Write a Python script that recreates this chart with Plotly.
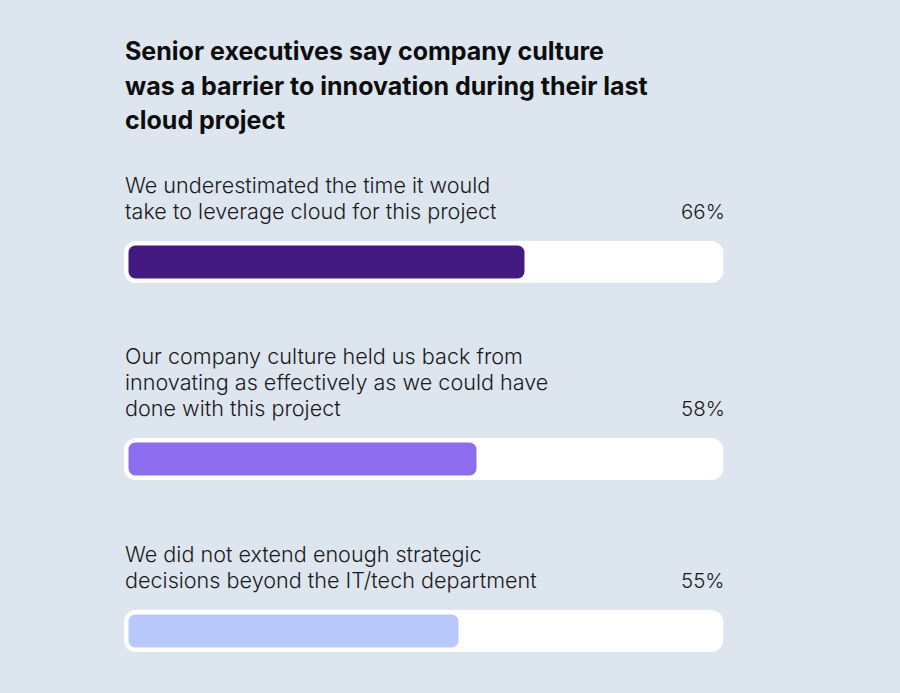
import plotly.graph_objects as go

# ---- data ----
title_lines = [
    "Senior executives say company culture",
    "was a barrier to innovation during their last",
    "cloud project",
]
labels = [
    ["We underestimated the time it would",
     "take to leverage cloud for this project"],
    ["Our company culture held us back from",
     "innovating as effectively as we could have",
     "done with this project"],
    ["We did not extend enough strategic",
     "decisions beyond the IT/tech department"],
]
values = [66, 58, 55]
bar_colors = ["#431a7f", "#8b6dee", "#b8c8fb"]

# ---- layout constants (pixels) ----
W, H = 900, 693
ZERO_PX = 128.5      # pixel position of 0%
PX_PER_PCT = 6.0     # pixel per percentage point
TRACK_LEFT_PX, TRACK_RIGHT_PX = 124, 723.3
TRACK_Y = [262, 459, 631]   # centre of each track
TRACK_H, BAR_H = 42, 33
LINE_H = 26
BG = "#dde5ef"
FONT = "Inter"

def px_to_x(px):
    return (px - ZERO_PX) / PX_PER_PCT

track_base = px_to_x(TRACK_LEFT_PX)
track_len = px_to_x(TRACK_RIGHT_PX) - track_base

fig = go.Figure()
fig.add_trace(go.Bar(
    orientation="h", y=TRACK_Y, x=[track_len] * len(values), base=[track_base] * len(values),
    width=TRACK_H, marker=dict(color="white", cornerradius=12, line=dict(width=0)),
    hoverinfo="skip", showlegend=False,
))
fig.add_trace(go.Bar(
    orientation="h", y=TRACK_Y, x=values, base=[0] * len(values),
    width=BAR_H, marker=dict(color=bar_colors, cornerradius=7, line=dict(width=0)),
    hoverinfo="skip", showlegend=False,
))

annotations = []
title_y = [51, 86, 120]
for line, ty in zip(title_lines, title_y):
    annotations.append(dict(
        text=line, x=px_to_x(TRACK_LEFT_PX - 1), y=ty, xref="x", yref="y",
        xanchor="left", yanchor="middle", showarrow=False,
        font=dict(family=FONT, size=25, color="#0d0d0d", weight=700),
    ))

for lab, v, cy in zip(labels, values, TRACK_Y):
    last_line_y = cy - TRACK_H / 2 - 30
    for i, line in enumerate(lab):
        ly = last_line_y - (len(lab) - 1 - i) * LINE_H
        annotations.append(dict(
            text=line, x=px_to_x(TRACK_LEFT_PX - 1), y=ly, xref="x", yref="y",
            xanchor="left", yanchor="middle", showarrow=False,
            font=dict(family=FONT, size=21.6, color="#1a1a1a", weight=300),
        ))
    annotations.append(dict(
        text=f"{v}%", x=px_to_x(TRACK_RIGHT_PX + 4), y=last_line_y, xref="x", yref="y",
        xanchor="right", yanchor="middle", showarrow=False,
        font=dict(family=FONT, size=20.5, color="#1a1a1a", weight=300),
    ))

fig.update_layout(
    width=W, height=H,
    margin=dict(l=0, r=0, t=0, b=0),
    paper_bgcolor=BG, plot_bgcolor=BG,
    barmode="overlay",
    xaxis=dict(range=[px_to_x(0), px_to_x(W)], visible=False, fixedrange=True),
    yaxis=dict(range=[H, 0], visible=False, fixedrange=True),
    annotations=annotations,
    showlegend=False,
    hovermode=False,
)

fig.write_html(
    "out.html",
    config={"displayModeBar": False},
    post_script="document.body.style.margin='0';document.body.style.background='" + BG + "';",
)
